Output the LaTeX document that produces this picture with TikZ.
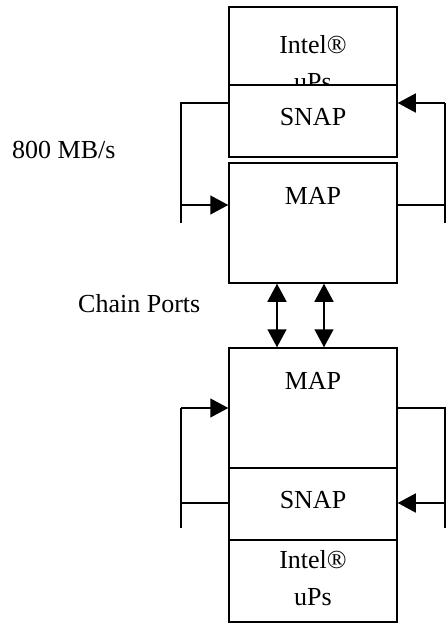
\documentclass[tikz,border=0pt]{standalone}
\usepackage{fontspec}
\setmainfont{Liberation Serif}
\usetikzlibrary{arrows.meta}
\begin{document}
\begin{tikzpicture}[x=1pt,y={(0pt,-1pt)},
  box/.style={draw,line width=1.5pt,fill=white,inner sep=0pt,minimum width=168pt},
  lbl/.style={inner sep=0pt,anchor=base,font=\fontsize{26}{37}\selectfont},
  side/.style={inner sep=0pt,anchor=base west,font=\fontsize{26}{37}\selectfont},
  wire/.style={line width=1.5pt},
  arr/.style={line width=1.5pt,-{Triangle[length=18pt,width=19pt]}},
  darr/.style={line width=1.5pt,{Triangle[length=18pt,width=19pt]}-{Triangle[length=18pt,width=19pt]}}]
\useasboundingbox (0,0) rectangle (446,624);
% top stack
\node[box,minimum height=78pt] (tIntel) at (313,46) {};
\node[lbl] (tIntelA) at (313,53) {Intel®};
\node[lbl] (tIntelB) at (313,90) {uPs};
\node[box,minimum height=72pt] (tSNAP) at (313,121) {};
\node[lbl] (tSNAPt) at (313,125) {SNAP};
\node[box,minimum height=120pt] (tMAP) at (313,223) {};
\node[lbl] (tMAPt) at (313,204) {MAP};
% bottom stack
\node[box,minimum height=120pt] (bMAP) at (313,408) {};
\node[lbl] (bMAPt) at (313,389) {MAP};
\node[box,minimum height=72pt] (bSNAP) at (313,504) {};
\node[lbl] (bSNAPt) at (313,508) {SNAP};
\node[box,minimum height=82pt] (bIntel) at (313,581) {};
\node[lbl] (bIntelA) at (313,568) {Intel®};
\node[lbl] (bIntelB) at (313,605) {uPs};
% side labels
\node[side] (rate) at (12,158) {800 MB/s};
\node[side] (chain) at (78,312) {Chain Ports};
% top wires
\coordinate (tl1) at (181,103);
\coordinate (tl2) at (181,205);
\coordinate (tl3) at (181,223);
\coordinate (tr1) at (445,103);
\coordinate (tr2) at (445,205);
\coordinate (tr3) at (445,223);
\draw[wire] (tSNAP.west |- tl1) -- (tl1) -- (tl3);
\draw[arr] (tl2) -- (tMAP.west |- tl2);
\draw[wire] (tMAP.east |- tr2) -- (tr2);
\draw[wire] (tr1) -- (tr3);
\draw[arr] (tr1) -- (tSNAP.east |- tr1);
% bottom wires
\coordinate (bl1) at (181,408);
\coordinate (bl2) at (181,503);
\coordinate (bl3) at (181,528);
\coordinate (br1) at (445,408);
\coordinate (br2) at (445,503);
\coordinate (br3) at (445,528);
\draw[wire] (bSNAP.west |- bl2) -- (bl2);
\draw[wire] (bl1) -- (bl3);
\draw[arr] (bl1) -- (bMAP.west |- bl1);
\draw[wire] (bMAP.east |- br1) -- (br1) -- (br3);
\draw[arr] (br2) -- (bSNAP.east |- br2);
% chain ports
\coordinate (c1) at (277,0);
\coordinate (c2) at (324,0);
\draw[darr] (tMAP.south -| c1) -- (bMAP.north -| c1);
\draw[darr] (tMAP.south -| c2) -- (bMAP.north -| c2);
\end{tikzpicture}
\end{document}
